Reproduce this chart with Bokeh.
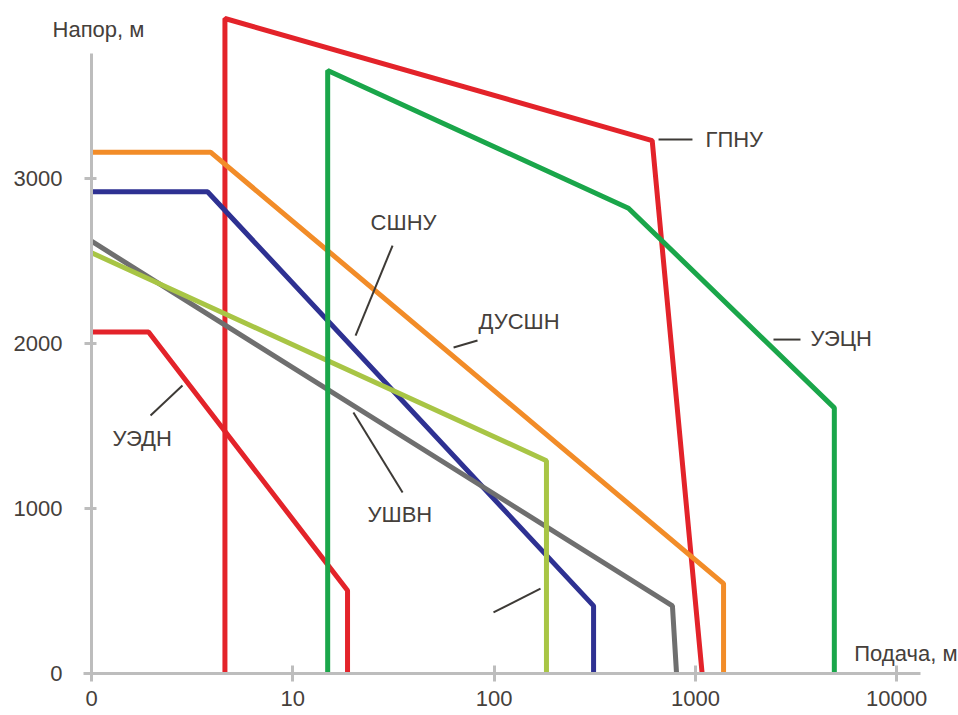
from bokeh.plotting import figure
from bokeh.models import FixedTicker, Label, Arrow, Range1d, BasicTickFormatter
from bokeh.embed import file_html
from bokeh.resources import INLINE

# ---------------- data (flow on log axis, head in metres) ----------------
gpnu_x = [4.6, 4.6, 610, 1080]
gpnu_y = [0, 3970, 3230, 0]

uecn_x = [14.9, 14.9, 465, 4900, 4900]
uecn_y = [0, 3655, 2820, 1610, 0]

dusshn_x = [1, 3.9, 1380, 1380]
dusshn_y = [3160, 3160, 545, 0]

sshnu_x = [1, 3.77, 312, 312]
sshnu_y = [2920, 2920, 410, 0]

ushvn_x = [1, 769, 806]
ushvn_y = [2620, 410, 0]

lightg_x = [1, 182, 182]
lightg_y = [2550, 1290, 0]

uedn_x = [1, 1.92, 18.7, 18.7]
uedn_y = [2070, 2070, 503, 0]

x_ticks = [1, 10, 100, 1000, 10000]
x_tick_labels = ["0", "10", "100", "1000", "10000"]
y_ticks = [0, 1000, 2000, 3000]

FONT = "Liberation Sans"
TXT = "#45403b"
AX = "#bdbdbd"

p = figure(width=958, height=715, x_axis_type="log",
           x_range=Range1d(0.353, 20280), y_range=Range1d(-254.5, 4079),
           output_backend="svg", toolbar_location=None,
           min_border_left=0, min_border_right=0,
           min_border_top=0, min_border_bottom=0)
p.grid.visible = False
p.outline_line_color = None
p.background_fill_color = "white"
p.border_fill_color = "white"

for ax in (p.xaxis, p.yaxis):
    ax.axis_line_color = AX
    ax.axis_line_width = 3
    ax.major_tick_line_color = AX
    ax.major_tick_line_width = 3
    ax.minor_tick_line_color = None
    ax.major_label_text_font = FONT
    ax.major_label_text_font_size = "22px"
    ax.major_label_text_color = TXT

p.xaxis.fixed_location = 0
p.xaxis.bounds = (0.913, 13130)
p.xaxis.ticker = FixedTicker(ticks=x_ticks)
p.xaxis.formatter = BasicTickFormatter()
p.xaxis.major_label_overrides = {t: l for t, l in zip(x_ticks, x_tick_labels)}
p.xaxis.major_tick_in = 8
p.xaxis.major_tick_out = 8
p.xaxis.major_label_standoff = 9

p.yaxis.fixed_location = 1
p.yaxis.bounds = (0, 3758)
p.yaxis.ticker = FixedTicker(ticks=y_ticks)
p.yaxis.major_tick_in = 5
p.yaxis.major_tick_out = 7
p.yaxis.major_label_standoff = 22

LW = 5
p.line(gpnu_x, gpnu_y, line_color="#e3232a", line_width=LW)
p.line(uedn_x, uedn_y, line_color="#e3232a", line_width=LW)
p.line(dusshn_x, dusshn_y, line_color="#f28c28", line_width=LW)
p.line(sshnu_x, sshnu_y, line_color="#2e3192", line_width=LW)
p.line(ushvn_x, ushvn_y, line_color="#6f6f6f", line_width=LW)
p.line(lightg_x, lightg_y, line_color="#a8c545", line_width=LW)
p.line(uecn_x, uecn_y, line_color="#1aa64a", line_width=LW)

# ---------------- callouts ----------------
def lbl(x, y, text, align="left", baseline="middle"):
    p.add_layout(Label(x=x, y=y, text=text, text_align=align, text_baseline=baseline,
                       text_font=FONT, text_font_size="22px", text_color=TXT))

def lead(x0, y0, x1, y1):
    p.add_layout(Arrow(end=None, x_start=x0, y_start=y0, x_end=x1, y_end=y1,
                       line_color="#3d3a36", line_width=2))

lead(656, 3236, 967, 3236); lbl(1122, 3236, "ГПНУ")
lead(2443, 2024, 3327, 2024); lbl(3732, 2030, "УЭЦН")
lead(31.3, 2594, 20.5, 2048); lbl(35.5, 2733, "СШНУ", align="center")
lead(82.7, 2018, 62.9, 1976); lbl(83.7, 2133, "ДУСШН")
lead(20.0, 1582, 35.1, 1097); lbl(23.5, 964, "УШВН")
lead(2.83, 1745, 1.964, 1564); lbl(1.271, 1424, "УЭДН")
lead(99.3, 370, 170, 515)

lbl(0.640, 3903, "Напор, м")
lbl(20050, 121, "Подача, м", align="right")

open("out.html", "w").write(file_html(p, INLINE))
